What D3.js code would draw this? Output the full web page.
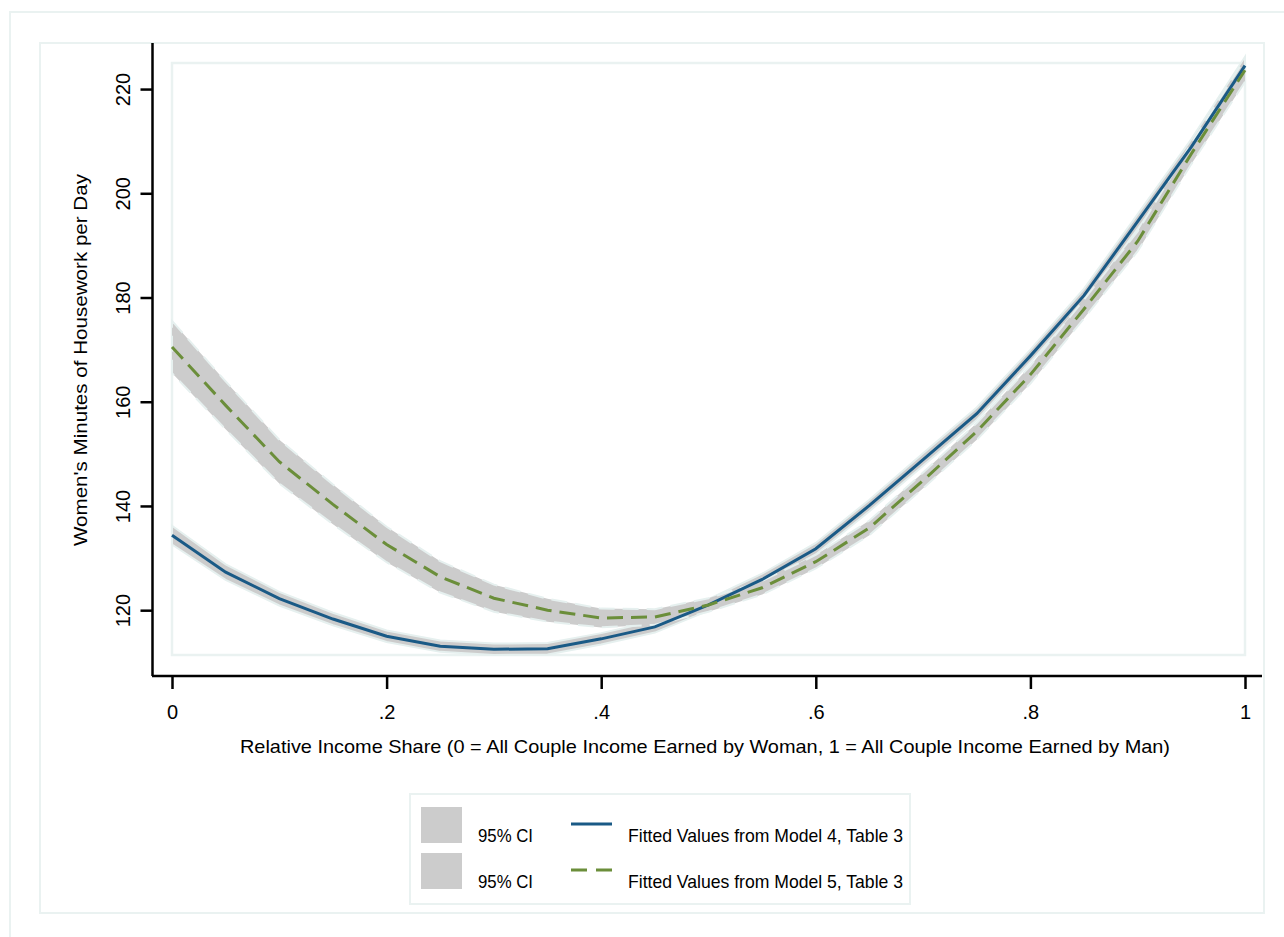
<!DOCTYPE html>
<html>
<head>
<meta charset="utf-8">
<script src="https://cdn.jsdelivr.net/npm/d3@7"></script>
<style>
  body { margin: 0; background: #fff; }
  text { font-family: "Liberation Sans", Arial, sans-serif; fill: #000; }
</style>
</head>
<body>
<svg id="chart" width="1284" height="937"></svg>
<script>
// data, x step 0.05
var shares = [0, .05, .1, .15, .2, .25, .3, .35, .4, .45, .5, .55, .6, .65, .7, .75, .8, .85, .9, .95, 1]
var model4 = [134.4, 127.3, 122.2, 118.3, 115.0, 113.1, 112.5, 112.6, 114.5, 116.8, 121.0, 125.9, 131.8, 140.1, 148.9, 157.7, 168.8, 180.4, 194.6, 208.9, 224.5]
var model5 = [170.5, 159.3, 148.5, 140.3, 132.6, 126.4, 122.3, 120.0, 118.5, 118.7, 121.0, 124.3, 129.3, 135.8, 144.9, 154.3, 165.2, 177.8, 190.8, 207.6, 223.6]
var ci4 = [1.8, 1.5, 1.3, 1.2, 1.1, 1.1, 1.1, 1.1, 1.1, 1.1, 1.1, 1.1, 1.1, 1.1, 1.2, 1.2, 1.2, 1.3, 1.4, 1.5, 1.7] // half widths
var ci5 = [5.0, 4.6, 4.2, 3.8, 3.4, 3.0, 2.6, 2.2, 1.8, 1.5, 1.3, 1.3, 1.3, 1.4, 1.5, 1.6, 1.7, 1.8, 1.9, 2.0, 2.2]

var xTicks = [0, .2, .4, .6, .8, 1]
var xTickLabels = ['0', '.2', '.4', '.6', '.8', '1']
var yTicks = [120, 140, 160, 180, 200, 220]

var blue = '#1a5a86', green = '#6b8e3a', band = '#cccccc', edge = '#e6f0ef', frame = '#eaf2f1'

var svg = d3.select('#chart')

// frames
svg.append('rect').attr('x', 10).attr('y', 12).attr('width', 1290).attr('height', 940)
    .attr('fill', 'none').attr('stroke', frame).attr('stroke-width', 2)
svg.append('rect').attr('x', 40).attr('y', 43).attr('width', 1224).attr('height', 870)
    .attr('fill', 'none').attr('stroke', frame).attr('stroke-width', 2)

var x = d3.scaleLinear().domain([0, 1]).range([172, 1245])
var y = d3.scaleLinear().domain([111.4, 225]).range([655, 63])

// plot region
svg.append('rect').attr('x', 172).attr('y', 63).attr('width', 1245 - 172).attr('height', 655 - 63)
    .attr('fill', 'none').attr('stroke', frame).attr('stroke-width', 2.5)

var rows = shares.map(function(s, i) {
    return { s: s, m4: model4[i], m5: model5[i], h4: ci4[i], h5: ci5[i] }
})

var area4 = d3.area().x(function(d) { return x(d.s) })
    .y0(function(d) { return y(d.m4 - d.h4) }).y1(function(d) { return y(d.m4 + d.h4) })
var area5 = d3.area().x(function(d) { return x(d.s) })
    .y0(function(d) { return y(d.m5 - d.h5) }).y1(function(d) { return y(d.m5 + d.h5) })

svg.append('path').datum(rows).attr('d', area4)
    .attr('fill', band).attr('stroke', edge).attr('stroke-width', 2)
svg.append('path').datum(rows).attr('d', area5)
    .attr('fill', band).attr('stroke', edge).attr('stroke-width', 2).attr('stroke-dasharray', '16,8')

var line4 = d3.line().x(function(d) { return x(d.s) }).y(function(d) { return y(d.m4) })
var line5 = d3.line().x(function(d) { return x(d.s) }).y(function(d) { return y(d.m5) })

svg.append('path').datum(rows).attr('d', line4)
    .attr('fill', 'none').attr('stroke', blue).attr('stroke-width', 3)
svg.append('path').datum(rows).attr('d', line5)
    .attr('fill', 'none').attr('stroke', green).attr('stroke-width', 3).attr('stroke-dasharray', '16,8')

// axes
var yAxis = svg.append('g').attr('transform', 'translate(152.5,0)')
    .call(d3.axisLeft(y).tickValues(yTicks).tickSize(12).tickFormat(''))
yAxis.select('.domain').attr('d', 'M0,43V676')
yAxis.selectAll('path, line').attr('stroke', '#000').attr('stroke-width', 2.5)

yAxis.selectAll('.tick').append('text')
    .attr('transform', 'translate(-23,0) rotate(-90)')
    .attr('text-anchor', 'middle')
    .style('font-size', '20px')
    .text(function(d) { return d })

var xAxis = svg.append('g').attr('transform', 'translate(0,676)')
    .call(d3.axisBottom(x).tickValues(xTicks).tickSize(13).tickFormat(''))
xAxis.select('.domain').attr('d', 'M152,0H1262')
xAxis.selectAll('path, line').attr('stroke', '#000').attr('stroke-width', 2.5)

xAxis.selectAll('.tick').append('text')
    .attr('y', 43)
    .attr('text-anchor', 'middle')
    .style('font-size', '20px')
    .text(function(d, i) { return xTickLabels[i] })

// titles
svg.append('text')
    .attr('transform', 'translate(87,360) rotate(-90)')
    .attr('text-anchor', 'middle')
    .attr('textLength', 372).attr('lengthAdjust', 'spacingAndGlyphs')
    .style('font-size', '19px')
    .text("Women's Minutes of Housework per Day")

svg.append('text')
    .attr('x', 705).attr('y', 753)
    .attr('text-anchor', 'middle')
    .attr('textLength', 930).attr('lengthAdjust', 'spacingAndGlyphs')
    .style('font-size', '19px')
    .text('Relative Income Share (0 = All Couple Income Earned by Woman, 1 = All Couple Income Earned by Man)')

// legend
var legend = svg.append('g')
legend.append('rect').attr('x', 410).attr('y', 794).attr('width', 500).attr('height', 110)
    .attr('fill', 'none').attr('stroke', frame).attr('stroke-width', 2)

var legendItems = [
    { label: 'Fitted Values from Model 4, Table 3', color: blue, dash: null },
    { label: 'Fitted Values from Model 5, Table 3', color: green, dash: '16,9' }
]
legendItems.forEach(function(item, i) {
    var top = 807 + i * 46
    legend.append('rect').attr('x', 421).attr('y', top).attr('width', 41).attr('height', 36).attr('fill', band)
    legend.append('text').attr('x', 478).attr('y', top + 35)
        .attr('textLength', 55).attr('lengthAdjust', 'spacingAndGlyphs')
        .style('font-size', '19px').text('95% CI')
    legend.append('line').attr('x1', 571).attr('x2', 612).attr('y1', top + 17).attr('y2', top + 17)
        .attr('stroke', item.color).attr('stroke-width', 3).attr('stroke-dasharray', item.dash)
    legend.append('text').attr('x', 628).attr('y', top + 35)
        .attr('textLength', 275).attr('lengthAdjust', 'spacingAndGlyphs')
        .style('font-size', '19px').text(item.label)
})
</script>
</body>
</html>
